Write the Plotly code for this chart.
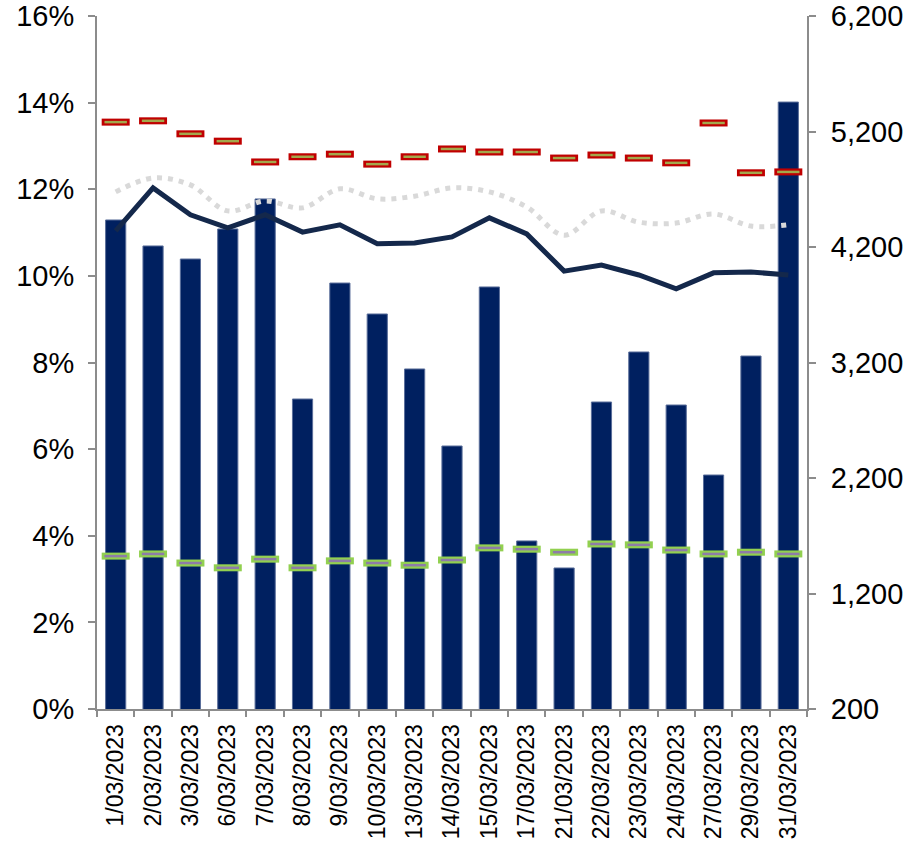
import plotly.graph_objects as go

dates = ["1/03/2023", "2/03/2023", "3/03/2023", "6/03/2023", "7/03/2023", "8/03/2023",
         "9/03/2023", "10/03/2023", "13/03/2023", "14/03/2023", "15/03/2023", "17/03/2023",
         "21/03/2023", "22/03/2023", "23/03/2023", "24/03/2023", "27/03/2023", "29/03/2023",
         "31/03/2023"]

# bars, right axis
volume = [4434, 4209, 4096, 4356, 4616, 2884, 3888, 3620, 3144, 2477, 3854, 1655,
          1421, 2858, 3291, 2832, 2226, 3256, 5455]

# left axis, %
solid_line = [11.04, 12.03, 11.41, 11.11, 11.41, 11.01, 11.18, 10.74, 10.76, 10.90,
              11.34, 10.97, 10.11, 10.25, 10.02, 9.70, 10.07, 10.09, 10.02]
dotted_line = [11.94, 12.26, 12.10, 11.50, 11.73, 11.57, 12.01, 11.78, 11.84, 12.03,
               11.94, 11.59, 10.94, 11.50, 11.24, 11.22, 11.43, 11.15, 11.18]
red_marks = [13.55, 13.58, 13.28, 13.11, 12.63, 12.75, 12.81, 12.58, 12.75, 12.93,
             12.86, 12.86, 12.72, 12.79, 12.72, 12.61, 13.53, 12.38, 12.40]
green_marks = [3.53, 3.58, 3.37, 3.26, 3.46, 3.26, 3.42, 3.37, 3.32, 3.44,
               3.72, 3.69, 3.62, 3.81, 3.79, 3.67, 3.58, 3.62, 3.58]

pct_ticks = list(range(0, 17, 2))
vol_ticks = list(range(200, 6201, 1000))

AXIS_GREY = "#8C8C8C"
FONT = "Liberation Sans, Arial, sans-serif"

fig = go.Figure()
fig.add_trace(go.Bar(x=dates, y=volume, yaxis="y",
                     marker=dict(color="#002060", line=dict(color="#5A6E9A", width=1))))
fig.add_trace(go.Scatter(x=dates, y=dotted_line, yaxis="y2", mode="lines",
                         line=dict(color="#D9D9D9", width=5, dash="5px,6px", shape="spline")))
fig.add_trace(go.Scatter(x=dates, y=solid_line, yaxis="y2", mode="lines",
                         line=dict(color="#14284B", width=5)))
# dash-shaped markers: coloured outline drawn first, thin inner line on top
fig.add_trace(go.Scatter(x=dates, y=red_marks, yaxis="y2", mode="markers",
                         marker=dict(symbol="line-ew", size=20, line=dict(color="#C00000", width=7))))
fig.add_trace(go.Scatter(x=dates, y=red_marks, yaxis="y2", mode="markers",
                         marker=dict(symbol="line-ew", size=16, line=dict(color="#A3A84C", width=2.5))))
fig.add_trace(go.Scatter(x=dates, y=green_marks, yaxis="y2", mode="markers",
                         marker=dict(symbol="line-ew", size=20, line=dict(color="#92D050", width=7))))
fig.add_trace(go.Scatter(x=dates, y=green_marks, yaxis="y2", mode="markers",
                         marker=dict(symbol="line-ew", size=16, line=dict(color="#8E7CA8", width=2.5))))

fig.update_layout(
    width=920, height=846,
    margin=dict(l=97, r=113, t=16, b=137),
    paper_bgcolor="white", plot_bgcolor="white",
    showlegend=False,
    bargap=0.46,
    font=dict(family=FONT, color="black"),
    xaxis=dict(type="category", range=[-0.5, 18.5], tickangle=-90, automargin=False,
               tickfont=dict(size=23), showline=True, linecolor=AXIS_GREY, linewidth=2,
               ticks="outside", tickson="boundaries", ticklen=6, tickcolor=AXIS_GREY,
               tickwidth=2, ticklabelstandoff=4, showgrid=False),
    yaxis=dict(side="right", range=[200, 6200], tickvals=vol_ticks,
               ticktext=[f"{v:,}" for v in vol_ticks], automargin=False,
               tickfont=dict(size=29), showline=True, linecolor=AXIS_GREY,
               linewidth=2, ticks="outside", ticklen=7, tickcolor=AXIS_GREY, tickwidth=2,
               ticklabelstandoff=9, ticklabeloverflow="allow",
               showgrid=False, zeroline=False),
    yaxis2=dict(side="left", overlaying="y", range=[0, 16], tickvals=pct_ticks,
                ticktext=[f"{v}%" for v in pct_ticks], automargin=False,
                tickfont=dict(size=29), showline=True, linecolor=AXIS_GREY,
                linewidth=2, ticks="outside", ticklen=7, tickcolor=AXIS_GREY, tickwidth=2,
                ticklabelstandoff=8, ticklabeloverflow="allow",
                showgrid=False, zeroline=False),
)
# drop the browser's default body margin so the 920x846 figure fills the window
fig.write_html("out.html", config={"displayModeBar": False},
               post_script="document.body.style.margin = '0';")
